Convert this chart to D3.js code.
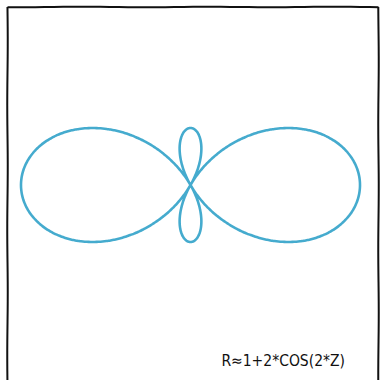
<!DOCTYPE html>
<html lang="en">

<head>
    <meta charset="UTF-8" />
    <title>Polar curve</title>
    <script src="https://d3js.org/d3.v7.min.js"></script>
    <style>
        body {
            margin: 0;
            background: #fff;
        }

        .frame {
            fill: none;
            stroke: #111;
            stroke-width: 2;
        }

        .curve {
            fill: none;
            stroke: #45abce;
            stroke-width: 2.6;
            stroke-linejoin: round;
        }

        .label {
            font-family: "DejaVu Sans Condensed", "DejaVu Sans", sans-serif;
            font-stretch: condensed;
            font-size: 15.5px;
            fill: #111;
        }
    </style>
</head>

<body>
    <script>
        // r = a + b * cos(k * z)
        const coefA = [1];
        const coefB = [2];
        const freq = [2];
        const xDomain = [-3, 3];
        const yDomain = [-1, 1];
        const labelText = ["R\u22481+2*COS(2*Z)"];

        const w = 380, h = 380;

        const svg = d3.select("body")
            .append("svg")
            .attr("width", w)
            .attr("height", h);

        const x = d3.scaleLinear().domain(xDomain).range([21, 360]);
        const y = d3.scaleLinear().domain(yDomain).range([242, 128]);

        // frame, only a faint hand-drawn wobble
        const wobble = (t, s) => Math.sin(t * 0.05 + s) * 0.25;
        function wobblyLine(x0, y0, x1, y1, seed) {
            const n = 40;
            const len = Math.hypot(x1 - x0, y1 - y0);
            const dx = -(y1 - y0) / len, dy = (x1 - x0) / len;
            const pts = d3.range(n + 1).map(i => {
                const t = i / n;
                const o = wobble(t * len, seed);
                return [x0 + (x1 - x0) * t + dx * o, y0 + (y1 - y0) * t + dy * o];
            });
            return d3.line()(pts);
        }

        const box = [7.5, 7, 378.5, 400];
        svg.append("path").attr("class", "frame").attr("d", wobblyLine(box[0], box[1], box[2], box[1], 1));
        svg.append("path").attr("class", "frame").attr("d", wobblyLine(box[2], box[1], box[2], box[3], 2));
        svg.append("path").attr("class", "frame").attr("d", wobblyLine(box[0], box[1], box[0], box[3], 3));

        const angles = d3.range(0, 2 * Math.PI + 0.001, Math.PI / 360);
        const pts = angles.map(z => {
            const r = coefA[0] + coefB[0] * Math.cos(freq[0] * z);
            return [r * Math.cos(z), r * Math.sin(z)];
        });

        svg.append("path")
            .attr("class", "curve")
            .attr("d", d3.line().x(d => x(d[0])).y(d => y(d[1])).curve(d3.curveCatmullRom)(pts));

        svg.append("text")
            .attr("class", "label")
            .attr("x", 345)
            .attr("y", 366)
            .attr("text-anchor", "end")
            .text(labelText[0]);
    </script>
</body>

</html>
